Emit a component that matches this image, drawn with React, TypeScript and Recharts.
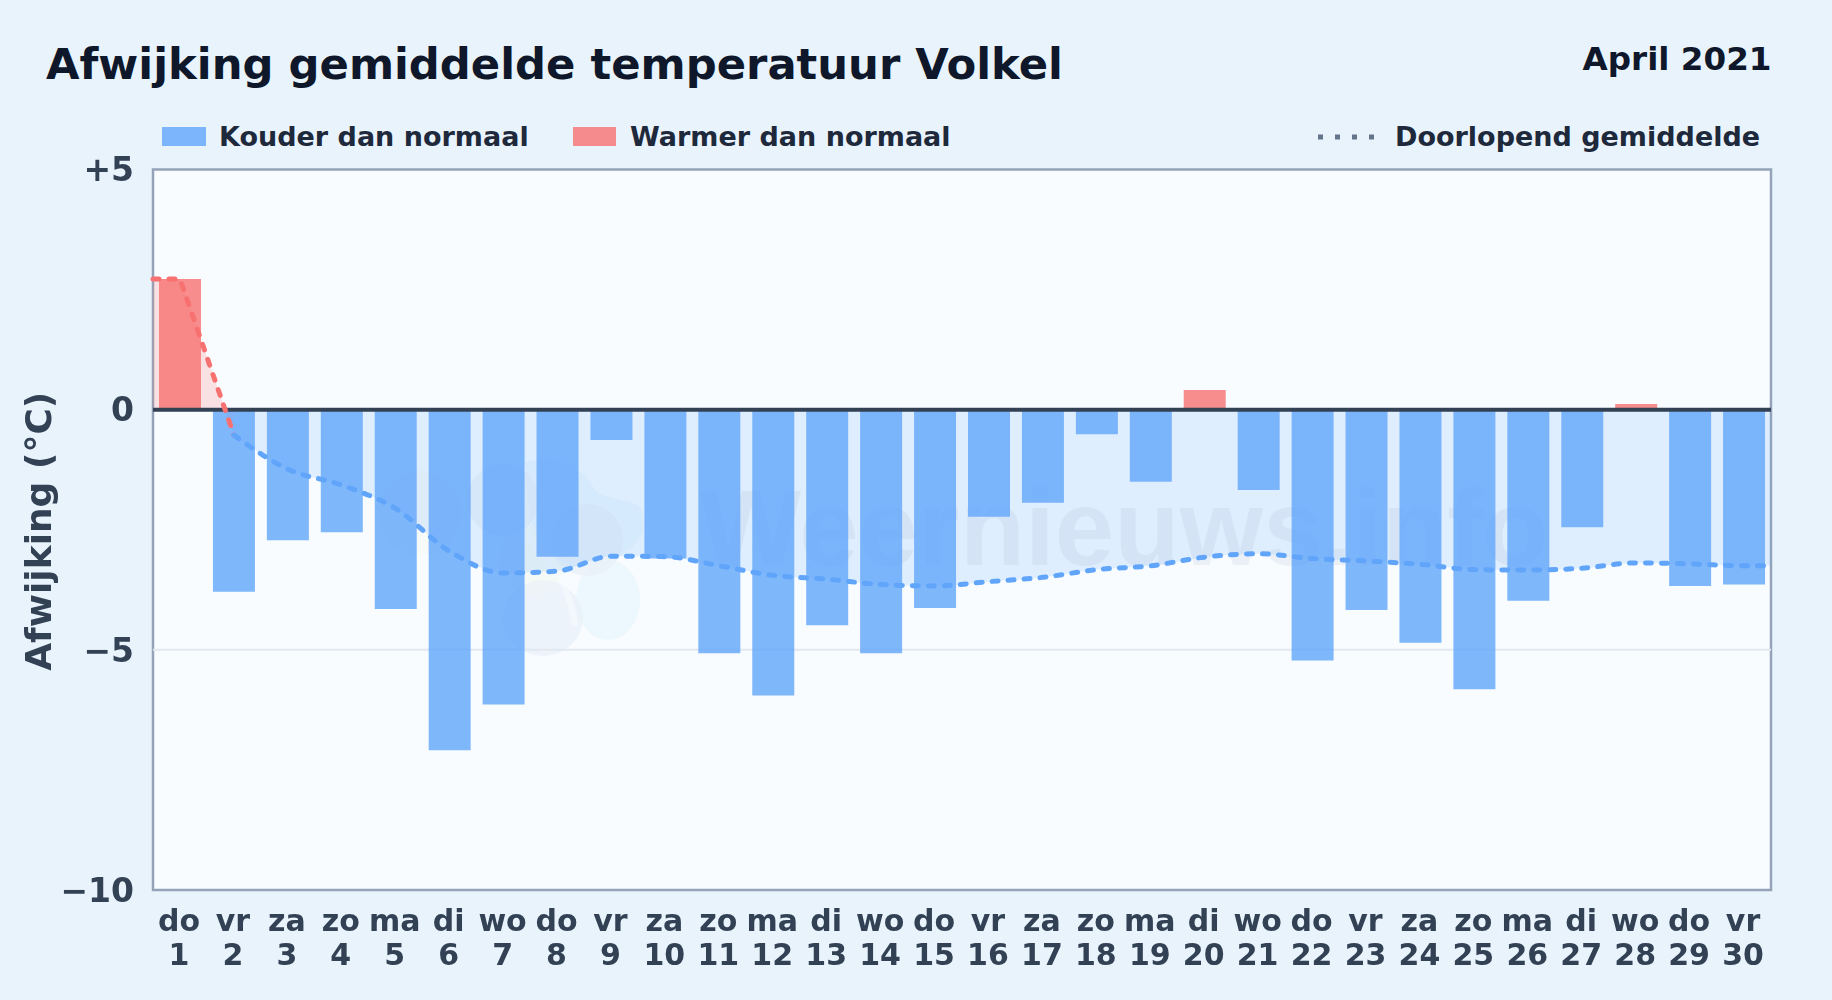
import { Area, Bar, CartesianGrid, Cell, ComposedChart, Line, ReferenceLine, XAxis, YAxis } from "recharts";

const FONT = "'DejaVu Sans', sans-serif";
const BLUE = "#60a5fa";
const RED = "#f87171";

const days = [1, 2, 3, 4, 5, 6, 7, 8, 9, 10, 11, 12, 13, 14, 15, 16, 17, 18, 19, 20, 21, 22, 23, 24, 25, 26, 27, 28, 29, 30];
const weekdays = ["do", "vr", "za", "zo", "ma", "di", "wo", "do", "vr", "za", "zo", "ma", "di", "wo", "do", "vr", "za", "zo", "ma", "di", "wo", "do", "vr", "za", "zo", "ma", "di", "wo", "do", "vr"];
const deviation = [2.72, -3.79, -2.72, -2.55, -4.15, -7.09, -6.14, -3.06, -0.63, -3.1, -5.07, -5.95, -4.49, -5.07, -4.13, -2.23, -1.94, -0.51, -1.5, 0.41, -1.67, -5.22, -4.17, -4.85, -5.82, -3.98, -2.45, 0.12, -3.67, -3.64];
const runningAvg = [2.72, -0.53, -1.24, -1.57, -2.06, -2.95, -3.4, -3.36, -3.05, -3.06, -3.25, -3.45, -3.53, -3.64, -3.67, -3.58, -3.49, -3.33, -3.25, -3.07, -3.0, -3.1, -3.15, -3.22, -3.33, -3.34, -3.3, -3.19, -3.21, -3.25];
const yTicks = [5, 0, -5, -10];

const rows = days.map((d, i) => ({ day: d, deviation: deviation[i] }));

// the running mean runs on to both edges of the plot, so it gets its own hidden x axis
const warmRows = [
  { day: 0.5, avg: runningAvg[0] },
  { day: 1, avg: runningAvg[0] },
  { day: 2, avg: runningAvg[1] },
];
const coolRows = [
  ...days.slice(1).map((d, i) => ({ day: d, avg: runningAvg[i + 1] })),
  { day: 30.5, avg: runningAvg[29] },
];

function formatY(v: number) {
  if (v > 0) return `+${v}`;
  if (v < 0) return `\u2212${Math.abs(v)}`;
  return "0";
}

function DayTick({ x, y, payload }: any) {
  const i = days.indexOf(payload.value);
  return (
    <text textAnchor="middle" fontFamily={FONT} fontWeight={700} fontSize={30} fill="#334155">
      <tspan x={x - 1} y={y + 33}>{weekdays[i]}</tspan>
      <tspan x={x - 1} y={y + 67}>{payload.value}</tspan>
    </text>
  );
}

function Backdrop() {
  return (
    <svg width={1832} height={1000} style={{ position: "absolute", left: 0, top: 0 }}>
      <rect width={1832} height={1000} fill="#e8f3fc" />
      <rect x={153} y={169.5} width={1618} height={720.5} fill="#f8fcff" stroke="#94a3b8" strokeWidth={2.5} />
      <g opacity={0.35}>
        <circle cx={420} cy={513} r={42} fill="#eef3dc" opacity={0.6} />
        <circle cx={533} cy={560} r={34} fill="#eef3dc" opacity={0.7} />
        <path d="M525 462 C560 452 585 470 595 490 C610 505 650 495 642 520 C650 540 620 560 600 565 C575 575 545 560 530 520 Z" fill="#cfe8fd" opacity={0.7} />
        <ellipse cx={608} cy={600} rx={32} ry={40} fill="#cfe8fb" opacity={0.8} />
        <circle cx={503} cy={500} r={36} fill="#cdd9e8" opacity={0.7} />
        <circle cx={587} cy={540} r={36} fill="#cdd9e8" opacity={0.7} />
        <ellipse cx={543} cy={618} rx={40} ry={38} fill="#cdd9e8" opacity={0.7} />
        <path d="M520 530 C560 570 570 590 575 625" fill="none" stroke="#f8fcff" strokeWidth={6} opacity={0.6} />
      </g>
      <text x={700} y={565} fontFamily="'Liberation Sans', sans-serif" fontWeight={700} fontSize={107} fill="#94a3b8" opacity={0.12}>Weernieuws.info</text>
    </svg>
  );
}

function Heading() {
  return (
    <svg width={1832} height={170} style={{ position: "absolute", left: 0, top: 0 }} fontFamily={FONT} fontWeight={700}>
      <text x={46} y={79} fontSize={43.3} fill="#0f172a">Afwijking gemiddelde temperatuur Volkel</text>
      <text x={1771.5} y={70} fontSize={32.6} textAnchor="end" fill="#0f172a">April 2021</text>
      <g fontSize={27} fill="#1e293b">
        <rect x={162} y={127} width={44} height={19} fill={BLUE} fillOpacity={0.8} />
        <text x={219} y={146}>Kouder dan normaal</text>
        <rect x={573} y={127} width={43} height={19} fill={RED} fillOpacity={0.8} />
        <text x={630} y={146}>Warmer dan normaal</text>
        <line x1={1318} x2={1376} y1={137} y2={137} stroke="#64748b" strokeWidth={5} strokeDasharray="5 12" />
        <text x={1395} y={146}>Doorlopend gemiddelde</text>
      </g>
    </svg>
  );
}

export default function App() {
  return (
    <div style={{ position: "absolute", left: 0, top: 0, width: 1832, height: 1000, overflow: "hidden" }}>
      <Backdrop />
      <Heading />
      <div style={{ position: "absolute", left: 0, top: 0 }}>
        <ComposedChart width={1832} height={1000} data={rows} margin={{ top: 169.5, right: 61, bottom: 0, left: 0 }}>
          <CartesianGrid vertical={false} horizontalValues={[-5]} stroke="#e2e8f0" strokeWidth={2} />
          <XAxis
            dataKey="day"
            type="number"
            domain={[0.5, 30.5]}
            ticks={days}
            interval={0}
            height={110}
            axisLine={false}
            tickLine={false}
            tick={<DayTick />}
          />
          <XAxis xAxisId="avg" dataKey="day" type="number" domain={[0.5, 30.5]} hide />
          <YAxis
            type="number"
            domain={[-10, 5]}
            ticks={yTicks}
            interval={0}
            width={153}
            axisLine={false}
            tickLine={false}
            tickSize={0}
            tickMargin={19}
            tickFormatter={formatY}
            tick={{ fill: "#334155", fontSize: 33, fontWeight: 700, fontFamily: FONT }}
            label={{
              value: "Afwijking (°C)",
              angle: -90,
              position: "insideLeft",
              dx: 33,
              dy: 141,
              style: { fill: "#334155", fontSize: 36, fontWeight: 700, fontFamily: FONT },
            }}
          />
          <Area xAxisId="avg" data={warmRows} dataKey="avg" type="linear" baseValue={0} stroke="none" fill={RED} fillOpacity={0.2} isAnimationActive={false} />
          <Area xAxisId="avg" data={coolRows} dataKey="avg" type="monotone" baseValue={0} stroke="none" fill={BLUE} fillOpacity={0.16} isAnimationActive={false} />
          <Bar dataKey="deviation" barSize={42} isAnimationActive={false}>
            {rows.map((r) => (
              <Cell key={r.day} fill={r.deviation >= 0 ? RED : BLUE} fillOpacity={0.8} />
            ))}
          </Bar>
          <ReferenceLine y={0} stroke="#334155" strokeWidth={4} />
          <Line xAxisId="avg" data={warmRows} dataKey="avg" type="linear" stroke={RED} strokeWidth={5} strokeDasharray="6 10" strokeLinecap="round" dot={false} activeDot={false} isAnimationActive={false} />
          <Line xAxisId="avg" data={coolRows} dataKey="avg" type="monotone" stroke={BLUE} strokeWidth={5} strokeDasharray="6 10" strokeLinecap="round" dot={false} activeDot={false} isAnimationActive={false} />
        </ComposedChart>
      </div>
    </div>
  );
}
